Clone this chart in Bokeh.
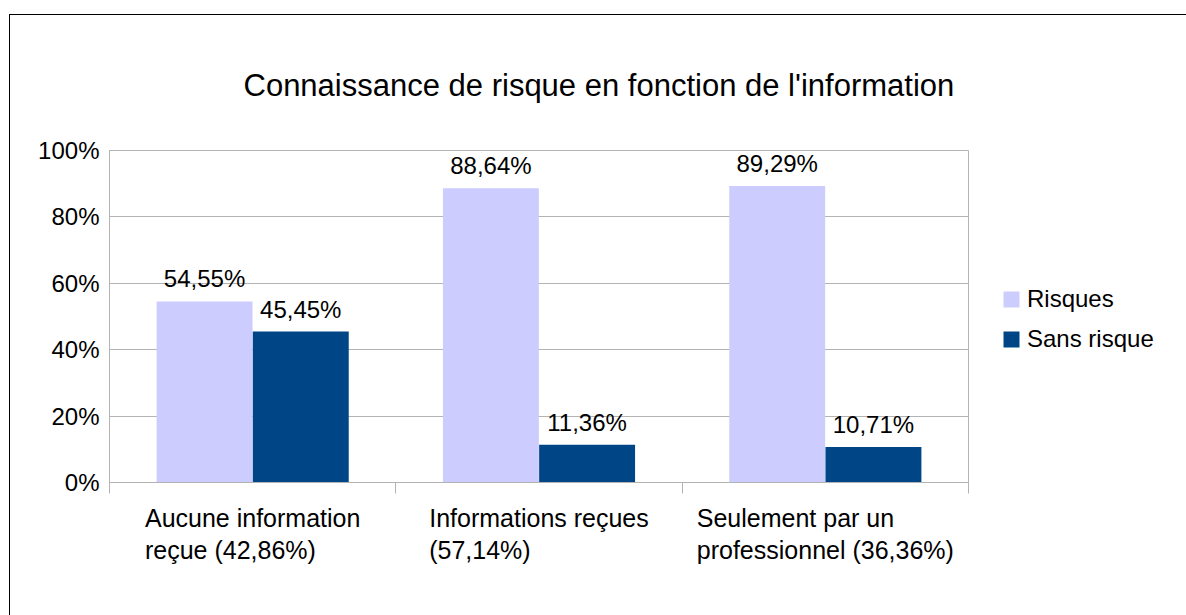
from bokeh.plotting import figure
from bokeh.models import (Range1d, FixedTicker, PrintfTickFormatter, LinearAxis,
                          ColumnDataSource, LabelSet, Legend, LegendItem)
from bokeh.core.properties import value
from bokeh.transform import dodge
from bokeh.embed import file_html
from bokeh.resources import INLINE

# ---- data ----
categories = [["Aucune information", "reçue (42,86%)"],
              ["Informations reçues", "(57,14%)"],
              ["Seulement par un", "professionnel (36,36%)"]]
series_names = ["Risques", "Sans risque"]
risques = [54.55, 88.64, 89.29]
sans_risque = [45.45, 11.36, 10.71]
y_ticks = [0, 20, 40, 60, 80, 100]
title_text = "Connaissance de risque en fonction de l'information"

# ---- styles ----
FONT = "Liberation Sans"
LIGHT = "#ccccff"
DARK = "#004586"
GRID = "#b3b3b3"
BAR_W = 0.335
OFF = 0.168
FRAME_W, FRAME_H = 859, 332
MB_L, MB_R, MB_T, MB_B = 99, 218, 135, 133
FS = 24      # px, value / tick / legend labels
CAT_FS = 25  # px, category labels

# approximate advance widths (1/1000 em) of Liberation Sans, used to left-justify
# the two lines of each category label inside a centred block
ADV = {" ": 278, "A": 667, "I": 278, "S": 667, "a": 556, "c": 500, "ç": 500, "e": 556,
       "f": 278, "i": 222, "l": 222, "m": 833, "n": 556, "o": 556, "p": 556, "r": 333,
       "s": 500, "t": 278, "u": 556, "(": 333, ")": 333, ",": 278, "%": 889}


def text_w(s, size):
    return sum(ADV.get(ch, 556) for ch in s) / 1000 * size


def fmt(v):
    return f"{v:.2f}%".replace(".", ",")


n = len(categories)
src = ColumnDataSource(dict(
    pos=[i + 0.5 for i in range(n)],   # slot centres on the category scale
    risques=risques,
    sans=sans_risque,
    risques_lbl=[fmt(v) for v in risques],
    sans_lbl=[fmt(v) for v in sans_risque],
))

p = figure(frame_width=FRAME_W, frame_height=FRAME_H, output_backend="svg", toolbar_location=None,
           x_range=Range1d(0, n), y_range=Range1d(0, 100),
           min_border_left=MB_L, min_border_right=MB_R, min_border_top=MB_T, min_border_bottom=MB_B)
p.styles = {"margin-left": "9px", "margin-top": "14px",
            "border-left": "1px solid black", "border-top": "1px solid black"}
p.background_fill_color = "white"
p.border_fill_color = "white"
p.outline_line_color = GRID
p.outline_line_width = 1

# title
p.title.text = title_text
p.title.text_font = FONT
p.title.text_font_size = "31px"
p.title.text_font_style = "normal"
p.title.text_color = "black"
p.title.align = "left"
p.title.offset = 134
p.title.standoff = 96

r1 = p.vbar(x=dodge("pos", -OFF), top="risques", width=BAR_W, source=src,
            fill_color=LIGHT, line_color=None)
r2 = p.vbar(x=dodge("pos", OFF), top="sans", width=BAR_W, source=src,
            fill_color=DARK, line_color=None)

# grid / y axis
p.xgrid.grid_line_color = None
p.ygrid.grid_line_color = GRID
p.ygrid.ticker = FixedTicker(ticks=y_ticks)

ya = p.yaxis[0]
ya.ticker = FixedTicker(ticks=y_ticks)
ya.formatter = PrintfTickFormatter(format="%d%%")
ya.axis_line_color = GRID
ya.major_tick_out = 0
ya.major_tick_in = 0
ya.minor_tick_line_color = None
ya.major_label_standoff = 10
ya.major_label_text_font = FONT
ya.major_label_text_font_size = f"{FS}px"
ya.major_label_text_color = "black"

# x axis: tick marks at the category boundaries
xa = p.below[0]
xa.ticker = FixedTicker(ticks=list(range(n + 1)))
xa.major_label_overrides = {i: "" for i in range(n + 1)}
xa.axis_line_color = GRID
xa.major_tick_line_color = GRID
xa.major_tick_out = 11
xa.major_tick_in = 0
xa.minor_tick_line_color = None
xa.major_label_standoff = 0
xa.major_label_text_font_size = "1px"

# category labels: two stacked label-only axes; each line is placed so that the
# lines are left-justified inside a block centred on its category slot
slot_px = FRAME_W / n
block_left = [i + 0.5 - max(text_w(l, CAT_FS) for l in lines) / 2 / slot_px
              for i, lines in enumerate(categories)]
for row, standoff in ((0, 10), (1, 1)):
    ticks = [round(block_left[i] + text_w(categories[i][row], CAT_FS) / 2 / slot_px, 4)
             for i in range(n)]
    ax = LinearAxis(ticker=FixedTicker(ticks=ticks),
                    major_label_overrides={ticks[i]: categories[i][row] for i in range(n)})
    ax.axis_line_color = None
    ax.major_tick_line_color = None
    ax.minor_tick_line_color = None
    ax.major_tick_out = 0
    ax.major_tick_in = 0
    ax.major_label_standoff = standoff
    ax.major_label_text_font = FONT
    ax.major_label_text_font_size = f"{CAT_FS}px"
    ax.major_label_text_color = "black"
    p.add_layout(ax, "below")

# value labels
for field, lbl, off in (("risques", "risques_lbl", -OFF), ("sans", "sans_lbl", OFF)):
    p.add_layout(LabelSet(x=dodge("pos", off), y=field, text=lbl, source=src,
                          text_align="center", text_baseline="alphabetic", y_offset=14,
                          text_font=value(FONT), text_font_size=value(f"{FS}px"),
                          text_color="black"))

legend = Legend(items=[LegendItem(label=series_names[0], renderers=[r1]),
                       LegendItem(label=series_names[1], renderers=[r2])],
                location=(33, 129), orientation="vertical")
legend.glyph_width = 20
legend.glyph_height = 20
legend.label_standoff = 6
legend.label_height = 28
legend.spacing = 12
legend.padding = 0
legend.margin = 0
legend.border_line_color = None
legend.background_fill_alpha = 0
legend.label_text_font = FONT
legend.label_text_font_size = f"{FS}px"
legend.label_text_color = "black"
p.add_layout(legend, "right")

open("out.html", "w").write(file_html(p, INLINE))
